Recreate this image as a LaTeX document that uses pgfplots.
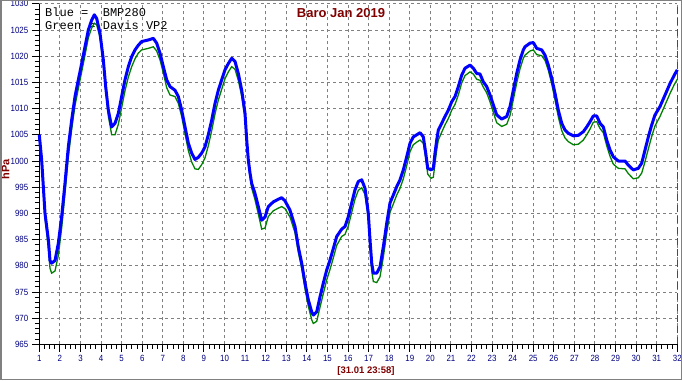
\documentclass[border=0pt]{standalone}
\usepackage{fontspec}
\setmainfont{Liberation Sans}
\setmonofont{Liberation Mono}
\newfontfamily\tickfont[FakeStretch=0.88]{Liberation Sans}
\usepackage{pgfplots}
\usepackage{pgfplotstable}
\pgfplotsset{compat=1.18}
\definecolor{navy}{RGB}{0,0,128}
\definecolor{maroon}{RGB}{128,0,0}
\definecolor{dgreen}{RGB}{0,128,0}
\definecolor{gridgray}{RGB}{128,128,128}
\definecolor{pblue}{RGB}{0,0,255}

\pgfplotstableread{
x y
1.000 1005.0
1.115 1000.2
1.277 990.0
1.439 985.0
1.520 981.0
1.600 980.5
1.763 981.0
1.925 984.3
2.087 989.4
2.249 995.8
2.411 1002.7
2.573 1007.8
2.735 1012.3
2.897 1015.5
3.059 1018.6
3.221 1021.8
3.382 1025.0
3.545 1026.9
3.674 1027.9
3.788 1027.2
3.949 1024.4
4.111 1019.3
4.225 1014.2
4.354 1009.7
4.517 1006.5
4.678 1007.2
4.840 1009.1
5.002 1012.3
5.164 1015.5
5.326 1018.0
5.488 1019.9
5.650 1021.2
5.812 1022.1
5.974 1022.8
6.298 1023.1
6.541 1023.4
6.703 1022.5
6.865 1020.6
7.027 1018.0
7.189 1015.5
7.351 1014.2
7.594 1013.5
7.756 1012.3
7.918 1009.7
8.080 1006.5
8.242 1003.4
8.404 1001.5
8.566 1000.3
8.728 1000.7
8.890 1001.5
9.052 1002.7
9.212 1005.0
9.377 1007.8
9.538 1011.0
9.698 1013.5
9.863 1015.5
10.023 1017.4
10.184 1018.6
10.349 1019.6
10.509 1019.0
10.670 1016.7
10.835 1013.5
10.995 1009.1
11.078 1004.0
11.156 1000.2
11.238 997.7
11.321 995.7
11.481 993.8
11.641 991.3
11.807 988.7
11.967 989.3
12.127 991.3
12.370 992.2
12.613 992.7
12.778 993.0
12.939 992.4
13.182 990.6
13.425 987.5
13.585 983.6
13.750 980.5
13.911 976.7
14.071 973.5
14.236 971.2
14.314 970.6
14.479 971.2
14.640 974.1
14.800 976.7
14.965 979.2
15.125 981.1
15.286 983.3
15.451 985.6
15.694 987.0
15.854 987.5
16.015 989.4
16.180 992.0
16.340 994.5
16.500 996.1
16.666 996.4
16.826 994.8
16.986 990.0
17.069 984.9
17.152 980.5
17.230 978.6
17.395 978.6
17.555 979.8
17.715 983.6
17.880 988.1
18.041 992.0
18.201 993.5
18.366 995.1
18.527 996.4
18.687 998.3
18.852 1000.8
19.013 1003.4
19.173 1004.6
19.338 1005.0
19.499 1005.4
19.659 1004.6
19.776 1001.5
19.873 998.6
20.033 998.3
20.145 998.6
20.227 1001.5
20.310 1004.0
20.388 1005.9
20.553 1007.2
20.713 1008.5
20.874 1009.7
21.039 1011.3
21.199 1012.3
21.360 1014.2
21.525 1016.4
21.685 1017.7
21.928 1018.3
22.089 1017.7
22.254 1016.7
22.414 1016.6
22.574 1015.1
22.739 1014.2
22.900 1012.6
23.060 1010.7
23.225 1008.8
23.468 1008.0
23.711 1008.5
23.872 1010.4
24.032 1013.5
24.197 1016.7
24.358 1019.3
24.518 1021.2
24.600 1021.8
24.843 1022.5
25.004 1022.6
25.169 1021.5
25.412 1021.2
25.572 1020.2
25.733 1018.3
25.898 1015.8
26.058 1012.9
26.219 1009.7
26.384 1007.2
26.544 1005.9
26.705 1005.3
26.948 1004.8
27.191 1004.9
27.434 1005.6
27.599 1006.5
27.759 1007.5
27.919 1008.6
28.085 1008.6
28.245 1007.2
28.405 1006.5
28.571 1004.0
28.731 1002.1
28.891 1000.8
29.134 1000.0
29.460 1000.0
29.620 999.2
29.863 998.3
30.106 998.6
30.271 999.6
30.432 1002.1
30.592 1004.6
30.757 1006.9
30.917 1008.8
31.160 1010.4
31.404 1012.6
31.647 1014.8
31.855 1016.4
32.000 1017.4
}\bmp

\pgfplotstableread{
x y
1.000 1004.8
1.115 999.5
1.277 989.2
1.439 983.5
1.520 979.5
1.600 978.6
1.763 979.0
1.925 982.0
2.087 987.2
2.249 993.8
2.411 1000.8
2.573 1006.0
2.735 1010.6
2.897 1013.8
3.059 1017.0
3.221 1020.2
3.382 1023.5
3.545 1025.4
3.674 1026.3
3.788 1026.0
3.949 1023.6
4.111 1018.6
4.225 1013.6
4.354 1008.6
4.517 1005.0
4.678 1005.0
4.840 1007.0
5.002 1010.2
5.164 1013.4
5.326 1016.0
5.488 1018.0
5.650 1019.5
5.812 1020.6
5.974 1021.2
6.298 1021.5
6.541 1021.8
6.703 1021.0
6.865 1019.3
7.027 1016.8
7.189 1014.0
7.351 1012.6
7.594 1012.3
7.756 1011.0
7.918 1008.5
8.080 1005.2
8.242 1002.0
8.404 999.8
8.566 998.5
8.728 998.4
8.890 999.3
9.052 1000.6
9.212 1002.9
9.377 1005.8
9.538 1009.0
9.698 1011.6
9.863 1013.7
10.023 1015.7
10.184 1017.0
10.349 1018.0
10.509 1017.5
10.670 1015.4
10.835 1012.4
10.995 1008.2
11.078 1003.4
11.156 999.6
11.238 997.0
11.321 994.8
11.481 992.6
11.641 989.9
11.807 987.0
11.967 987.2
12.127 989.4
12.370 990.5
12.613 991.0
12.778 991.3
12.939 990.9
13.182 989.3
13.425 986.3
13.585 982.6
13.750 979.5
13.911 975.6
14.071 972.3
14.236 969.7
14.314 969.0
14.479 969.4
14.640 972.1
14.800 974.7
14.965 977.3
15.125 979.3
15.286 981.5
15.451 983.9
15.694 985.6
15.854 986.0
16.015 987.6
16.180 990.2
16.340 992.7
16.500 994.4
16.666 994.9
16.826 993.6
16.986 989.2
17.069 983.8
17.152 979.0
17.230 977.0
17.395 976.8
17.555 977.9
17.715 981.6
17.880 986.2
18.041 990.2
18.201 991.8
18.366 993.5
18.527 994.8
18.687 996.6
18.852 999.1
19.013 1001.8
19.173 1003.1
19.338 1003.6
19.499 1004.0
19.659 1003.4
19.776 1000.6
19.873 997.5
20.033 996.7
20.145 996.9
20.227 999.6
20.310 1002.1
20.388 1004.0
20.553 1005.5
20.713 1006.9
20.874 1008.1
21.039 1009.7
21.199 1010.8
21.360 1012.6
21.525 1014.9
21.685 1016.3
21.928 1017.0
22.089 1016.6
22.254 1015.6
22.414 1015.4
22.574 1014.1
22.739 1013.0
22.900 1011.3
23.060 1009.3
23.225 1007.3
23.468 1006.6
23.711 1007.0
23.872 1008.7
24.032 1011.7
24.197 1014.9
24.358 1017.6
24.518 1019.6
24.600 1020.2
24.843 1021.0
25.004 1021.2
25.169 1020.3
25.412 1020.1
25.572 1019.2
25.733 1017.3
25.898 1014.7
26.058 1011.7
26.219 1008.4
26.384 1005.8
26.544 1004.4
26.705 1003.7
26.948 1003.1
27.191 1003.2
27.434 1004.0
27.599 1005.0
27.759 1006.1
27.919 1007.4
28.085 1007.5
28.245 1006.2
28.405 1005.4
28.571 1002.9
28.731 1000.9
28.891 999.4
29.134 998.6
29.460 998.5
29.620 997.6
29.863 996.6
30.106 996.8
30.271 997.7
30.432 999.9
30.592 1002.3
30.757 1004.7
30.917 1006.7
31.160 1008.5
31.404 1010.7
31.647 1012.9
31.855 1014.6
32.000 1015.6
}\davis

\begin{document}
\begin{tikzpicture}[x=1pt,y=1pt]
\useasboundingbox (0,0) rectangle (682,380);
\fill[white] (0,0) rectangle (682,380);
\node[anchor=base west, inner sep=0pt, font=\ttfamily\fontsize{12}{13}\selectfont] at (45,363.3) {Blue =\ \ BMP280};
\node[anchor=base west, inner sep=0pt, font=\ttfamily\fontsize{12}{13}\selectfont] at (45,350.0) {Green = Davis VP2};
\node[anchor=base, inner sep=0pt, text=maroon, font=\bfseries\fontsize{13}{15}\selectfont] at (341,362.7) {Baro Jan 2019};
\node[anchor=center, inner sep=0pt, rotate=90, text=maroon, font=\bfseries\fontsize{11}{13}\selectfont] at (5.5,211) {hPa};
\node[anchor=center, inner sep=0pt, text=maroon, font=\bfseries\fontsize{9.5}{11}\selectfont] at (366,9) {[31.01 23:58]};
\begin{axis}[
  at={(39.3pt,35.6pt)}, anchor=south west,
  scale only axis, width=638pt, height=340.6pt,
  xmin=1, xmax=32, ymin=965, ymax=1030,
  axis x line*=bottom, axis y line*=left,
  axis line style={-, black, line width=1pt},
  xtick={1,...,32}, ytick={965,970,...,1030},
  minor x tick num=3, minor y tick num=4,
  tick align=outside,
  major tick length=7.5pt, minor tick length=4.5pt,
  tick style={black, line width=1pt},
  grid=major,
  major grid style={gridgray, line width=1pt, dash pattern=on 3pt off 3pt},
  minor grid style={draw=none},
  scaled ticks=false,
  /pgf/number format/.cd, 1000 sep={}, assume math mode=true, /pgfplots/.cd,
  ticklabel style={text=navy, font=\tickfont\fontsize{9}{10}\selectfont},
  clip=false,
]
\addplot[dgreen, line width=1.3pt, dash pattern=on 7pt off 4pt] coordinates {(32,965) (32,1030)};
\addplot[dgreen, line width=1.3pt] table[x=x,y=y] {\davis};
\addplot[pblue, line width=3pt, line join=round] table[x=x,y=y] {\bmp};
\end{axis}
\draw[gridgray, line width=1.5pt] (0.75,0.75) rectangle (681.25,379.25);
\end{tikzpicture}
\end{document}
